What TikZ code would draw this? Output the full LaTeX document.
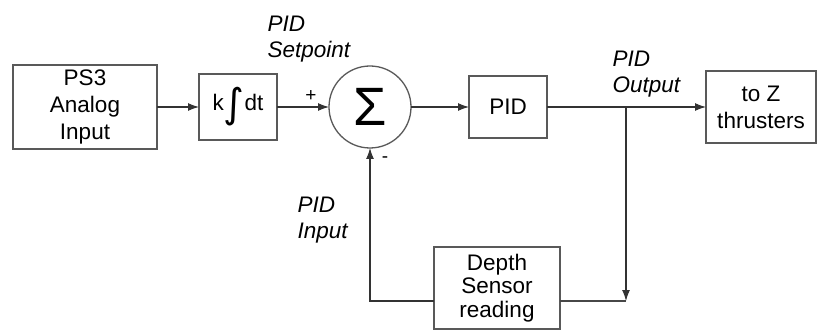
\documentclass[tikz,border=0pt]{standalone}
\usepackage{fontspec}
\setmainfont{Liberation Sans}
\newfontfamily\djv{DejaVu Sans}
\usetikzlibrary{arrows.meta}
\begin{document}
\begin{tikzpicture}[x=1pt,y=-1pt,
  line width=1.1pt, color=black!72,
  blk/.style={draw=black!65,line width=1.3pt,fill=white,inner sep=0pt,outer sep=0pt,align=center,
    text=black,font=\fontsize{22.5}{27}\selectfont},
  lbl/.style={inner sep=0pt,anchor=base west,align=left,text=black,font=\fontsize{22.5}{26}\selectfont\itshape},
  sgn/.style={inner sep=0pt,text=black,font=\fontsize{19}{19}\selectfont},
  arr/.style={-{Latex[length=11pt,width=8pt]},draw=black!80,line width=1.1pt}]
\useasboundingbox (0,0) rectangle (819,331);
\node[blk,minimum width=144pt,minimum height=84pt] (ps3) at (85,107) {PS3\\Analog\\Input};
\node[blk,minimum width=78pt,minimum height=66pt] (integ) at (238,107)
  {k\raisebox{-7pt}{\djv\fontsize{40}{40}\selectfont ∫}dt};
\node[circle,draw=black!65,line width=1.3pt,minimum size=82pt,inner sep=0pt,outer sep=0pt,text=black] (sum) at (370,107)
  {\fontsize{54}{54}\selectfont Σ};
\node[blk,minimum width=78pt,minimum height=62pt] (pid) at (508,107) {PID};
\node[blk,minimum width=110pt,minimum height=72pt] (tz) at (761,107) {to Z\\thrusters};
\node[blk,minimum width=126pt,minimum height=82pt,font=\fontsize{22.5}{23.5}\selectfont] (depth) at (497,288)
  {Depth\\Sensor\\reading};
\coordinate (split) at (626,107);
\coordinate (fbr) at (626,301);
\coordinate (fbl) at (370,301);
\draw[arr] (ps3) -- (integ);
\draw[arr] (integ) -- (sum);
\draw[arr] (sum) -- (pid);
\draw[arr] (pid) -- (tz);
\draw[arr] (split) -- (fbr);
\draw (depth.east |- fbr) -- (fbr);
\draw[arr] (depth.west |- fbl) -- (fbl) -- (sum.south);
\node[lbl] (lsp) at (267,58) {PID\\Setpoint};
\node[lbl] (lout) at (612,93) {PID\\Output};
\node[lbl] (lin) at (297,239) {PID\\Input};
\node[sgn] (plus) at (311,96) {+};
\node[sgn] (minus) at (385,160) {-};
\end{tikzpicture}
\end{document}
